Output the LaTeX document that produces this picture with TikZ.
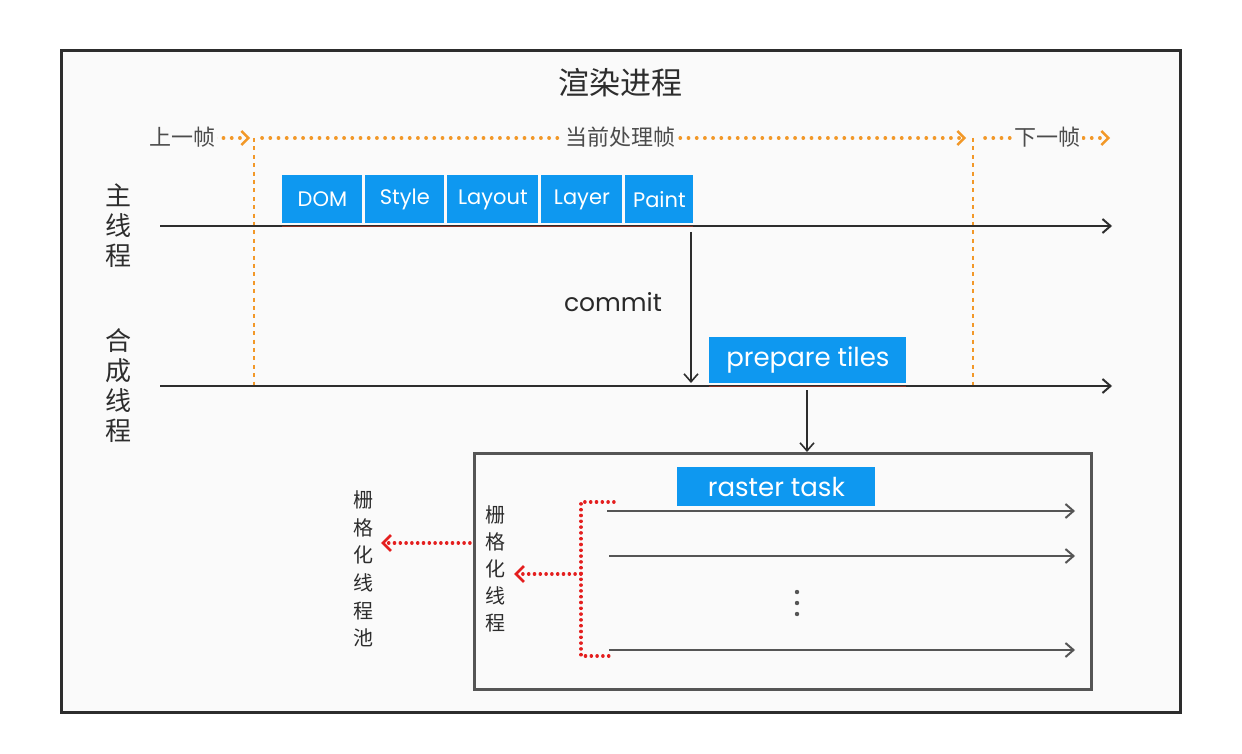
\documentclass[tikz,border=0pt]{standalone}
\usepackage{fontspec}
\setmainfont{Poppins}
\newfontfamily\cjk{Noto Sans CJK SC}
\usetikzlibrary{arrows.meta}
\definecolor{bluebox}{RGB}{14,152,240}
\definecolor{orangedot}{RGB}{242,152,40}
\definecolor{reddot}{RGB}{228,30,30}
\definecolor{bgin}{RGB}{250,250,250}
\definecolor{ink}{RGB}{45,45,45}
\definecolor{greyline}{RGB}{85,85,85}
\begin{document}
\begin{tikzpicture}[x=0.5pt,y=-0.5pt,
  task/.style={fill=bluebox, text=white, inner sep=0pt, anchor=north west,
    font=\fontsize{10.5}{12}\selectfont},
  bigtask/.style={task, font=\fontsize{13}{15}\selectfont},
  vlabel/.style={align=center, text=ink, inner sep=0pt},
  framelbl/.style={font=\cjk\fontsize{11}{13}\selectfont, text=ink!85, fill=bgin, inner sep=1pt},
  orangeflow/.style={draw=orangedot, line width=1.8pt, line cap=round, dash pattern=on 0.1pt off 4pt},
  orangeedge/.style={draw=orangedot, line width=0.9pt, dash pattern=on 2pt off 2.2pt},
  redflow/.style={draw=reddot, line width=1.7pt, line cap=round, dash pattern=on 0.1pt off 2.8pt},
  timeline/.style={draw=ink, line width=1pt, -{Straight Barb[length=4pt,width=7pt,line width=1pt]}},
  lane/.style={draw=greyline, line width=1pt, -{Straight Barb[length=4pt,width=7pt,line width=1pt]}},
  downarrow/.style={draw=ink, line width=0.8pt, -{Straight Barb[length=4pt,width=7pt,line width=0.8pt]}},
  orangetip/.style={-{Straight Barb[length=3.5pt,width=7pt,line width=1.2pt,color=orangedot]}},
  redtip/.style={-{Straight Barb[length=4pt,width=8pt,line width=1.4pt,color=reddot]}}
]
% canvas and frame
\fill[white] (0,0) rectangle (1242,754);
\useasboundingbox (0,0) rectangle (1242,754);
\filldraw[fill=bgin, draw=ink, line width=1.5pt] (61,51) rectangle (1180,712);

% title
\node[font=\cjk\fontsize{15.5}{18}\selectfont, text=ink] (title) at (620,83) {渲染进程};

% frame boundaries
\coordinate (ftop1) at (254,138);
\coordinate (fbot1) at (254,386);
\coordinate (ftop2) at (973,138);
\coordinate (fbot2) at (973,386);
\draw[orangeedge] (ftop1) -- (fbot1);
\draw[orangeedge] (ftop2) -- (fbot2);

% frame flow lines
\coordinate (p0) at (166,138);
\coordinate (c0) at (262,138);
\coordinate (c1) at (966,138);
\coordinate (n0) at (985,138);
\coordinate (n1) at (1110,138);
\draw[orangeflow, orangetip] (p0) -- (250,138);
\draw[orangeflow, orangetip] (c0) -- (c1);
\draw[orangeflow, orangetip] (n0) -- (n1);
\node[framelbl] (prev) at (182,137) {上一帧};
\node[framelbl] (cur) at (620,137) {当前处理帧};
\node[framelbl] (next) at (1047,137) {下一帧};

% thread labels
\node[vlabel, font=\cjk\fontsize{13}{15}\selectfont] (mainlbl) at (118,226) {主\\线\\程};
\node[vlabel, font=\cjk\fontsize{13}{15}\selectfont] (complbl) at (118,386) {合\\成\\线\\程};

% timelines
\coordinate (m0) at (160,226);
\coordinate (m1) at (1112,226);
\coordinate (k0) at (160,386);
\coordinate (k1) at (1112,386);
\draw[timeline] (m0) -- (m1);
\draw[timeline] (k0) -- (k1);
\draw[draw={rgb,255:red,140;green,50;blue,35}, line width=0.8pt] (282,226.5) -- (693,226.5);
\draw[draw={rgb,255:red,140;green,50;blue,35}, line width=0.8pt] (709,386.5) -- (906,386.5);

% main thread tasks
\node[task, minimum width=40pt,   minimum height=24pt] (dom)    at (282,175) {DOM};
\node[task, minimum width=39.5pt, minimum height=24pt] (style)  at (365,175) {Style};
\node[task, minimum width=45.5pt, minimum height=24pt] (layout) at (447,175) {Layout};
\node[task, minimum width=40.5pt, minimum height=24pt] (layer)  at (541,175) {Layer};
\node[task, minimum width=34pt,   minimum height=24pt] (paint)  at (625,175) {Paint};

% commit
\coordinate (cm0) at (691,232);
\coordinate (cm1) at (691,383);
\draw[downarrow] (cm0) -- (cm1);
\node[font=\fontsize{12.5}{14}\selectfont, text=ink!90!black] (commit) at (613,302) {commit};

% prepare tiles
\node[bigtask, minimum width=98.5pt, minimum height=23pt] (tiles) at (709,337) {prepare tiles};
\coordinate (pt0) at (807,390);

% raster pool box
\node[draw=greyline, line width=1.5pt, fill=bgin, minimum width=308.5pt, minimum height=118pt, anchor=north west, inner sep=0pt] (pool) at (473,452) {};
\draw[downarrow] (pt0) -- (pool.north -| pt0);

\node[bigtask, minimum width=99pt, minimum height=19.5pt] (raster) at (677,467) {raster task};

% raster lanes
\coordinate (l1a) at (607,511);
\coordinate (l1b) at (1075,511);
\coordinate (l2a) at (609,556);
\coordinate (l2b) at (1075,556);
\coordinate (l3a) at (609,650);
\coordinate (l3b) at (1075,650);
\draw[lane] (l1a) -- (l1b);
\draw[lane] (l2a) -- (l2b);
\draw[lane] (l3a) -- (l3b);
\fill[greyline] (797,592) circle (1.1pt) (797,603) circle (1.1pt) (797,614) circle (1.1pt);

% red bracket
\coordinate (b1) at (614,502);
\coordinate (b2) at (581,502);
\coordinate (b3) at (581,656);
\coordinate (b4) at (614,656);
\coordinate (bm) at (581,574);
\draw[redflow] (b1) -- (b2) -- (b3) -- (b4);

% raster thread labels
\node[vlabel, font=\cjk\fontsize{10}{13.5}\selectfont] (rt) at (495,569) {栅\\格\\化\\线\\程};
\node[vlabel, font=\cjk\fontsize{10}{13.8}\selectfont] (rpool) at (363,569) {栅\\格\\化\\线\\程\\池};
\coordinate (rtip) at (514,574);
\coordinate (pa) at (470,543);
\coordinate (ptip) at (381,543);
\draw[redflow, redtip] (bm) -- (rtip);
\draw[redflow, redtip] (pa) -- (ptip);
\end{tikzpicture}
\end{document}
